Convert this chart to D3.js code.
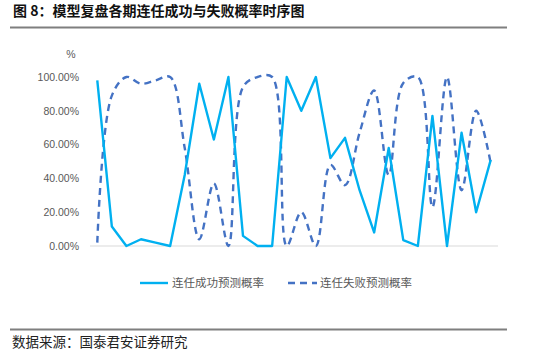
<!DOCTYPE html>
<html><head><meta charset="utf-8">
<script src="https://cdn.jsdelivr.net/npm/d3@7"></script>
<style>body{margin:0;background:#fff}svg{display:block}</style>
</head><body>
<script>
const titleText = "图 8：模型复盘各期连任成功与失败概率时序图";
const sourceText = "数据来源：国泰君安证券研究";
const periods = d3.range(1, 29);
const successProb = [98, 11.5, 0, 4, 2, 0, 42, 96, 63, 100, 6, 0, 0, 100, 80, 100, 52, 64, 33, 8, 58, 3.5, 0, 77, 0, 67, 20, 51];
const failureProb = [2, 89, 100, 96, 98, 100, 58, 4, 37, 0, 94, 100, 100, 0, 20, 0, 48, 36, 67, 92, 42, 96.5, 100, 23, 100, 33, 80, 49];
const yTicks = [0, 20, 40, 60, 80, 100];
const seriesNames = ["连任成功预测概率", "连任失败预测概率"];

const W = 550, H = 359;
const svg = d3.select("body").append("svg").attr("width", W).attr("height", H);

svg.append("text").attr("x", 13).attr("y", 16)
  .attr("font-family", "Noto Sans CJK SC").attr("font-weight", "bold")
  .attr("font-size", 14).attr("fill", "#111").text(titleText);
svg.append("line").attr("x1", 10).attr("x2", 507).attr("y1", 27.5).attr("y2", 27.5)
  .attr("stroke", "#7f7f7f").attr("stroke-width", 2);
svg.append("line").attr("x1", 10).attr("x2", 507).attr("y1", 329.5).attr("y2", 329.5)
  .attr("stroke", "#7f7f7f").attr("stroke-width", 2);
svg.append("text").attr("x", 12).attr("y", 347)
  .attr("font-family", "Noto Sans CJK SC").attr("font-size", 13.5).attr("fill", "#222").text(sourceText);

const x = d3.scalePoint().domain(periods).range([90, 498]).padding(0.5);
const y = d3.scaleLinear().domain([0, 100]).range([246, 77]);

const yAxis = d3.axisLeft(y).tickValues(yTicks).tickSize(0).tickPadding(0)
  .tickFormat(d => d.toFixed(2) + "%");
const ga = svg.append("g").attr("transform", "translate(79,0)").call(yAxis);
ga.select(".domain").remove();
ga.selectAll("text").attr("font-family", "Liberation Sans").attr("font-size", 10.5).attr("fill", "#595959");

svg.append("text").attr("x", 71).attr("y", 58).attr("text-anchor", "middle")
  .attr("font-family", "Liberation Sans").attr("font-size", 10.5).attr("fill", "#595959").text("%");

svg.append("line").attr("x1", 90).attr("x2", 498).attr("y1", y(0)).attr("y2", y(0))
  .attr("stroke", "#d9d9d9").attr("stroke-width", 1);

const lineS = d3.line().x((d, i) => x(periods[i])).y(d => y(d));
const lineF = d3.line().x((d, i) => x(periods[i])).y(d => y(d)).curve(d3.curveCatmullRom.alpha(0.5));

svg.append("path").attr("d", lineF(failureProb)).attr("fill", "none")
  .attr("stroke", "#4472c4").attr("stroke-width", 2.4).attr("stroke-dasharray", "7,5");
svg.append("path").attr("d", lineS(successProb)).attr("fill", "none")
  .attr("stroke", "#00b0f0").attr("stroke-width", 2.4).attr("stroke-linejoin", "round");

// legend
const lg = svg.append("g");
lg.append("line").attr("x1", 140).attr("x2", 168).attr("y1", 283).attr("y2", 283)
  .attr("stroke", "#00b0f0").attr("stroke-width", 2.4);
lg.append("text").attr("x", 172).attr("y", 287).attr("font-family", "Noto Sans CJK SC")
  .attr("font-size", 11.5).attr("fill", "#595959").text(seriesNames[0]);
lg.append("line").attr("x1", 288).attr("x2", 317).attr("y1", 283).attr("y2", 283)
  .attr("stroke", "#4472c4").attr("stroke-width", 2.4).attr("stroke-dasharray", "7,5");
lg.append("text").attr("x", 320).attr("y", 287).attr("font-family", "Noto Sans CJK SC")
  .attr("font-size", 11.5).attr("fill", "#595959").text(seriesNames[1]);
</script>
</body></html>
